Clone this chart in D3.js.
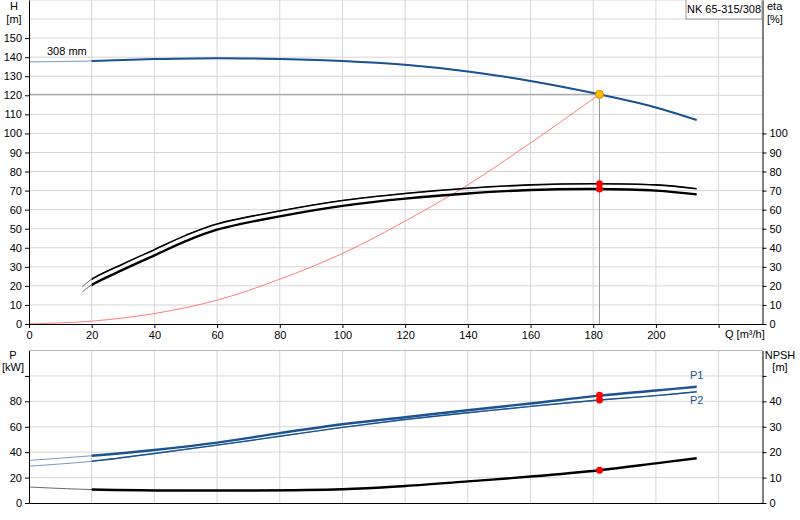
<!DOCTYPE html>
<html><head><meta charset="utf-8">
<script src="https://cdn.jsdelivr.net/npm/d3@7"></script>
<style>
body{margin:0;background:#fff;font-family:Arial,"Liberation Sans",sans-serif;}
text{font-size:11px;fill:#000;}
</style></head>
<body>
<script>
// flow rate samples (m3/h)
var qHead = [0, 20, 40, 60, 80, 100, 120, 140, 160, 182, 198, 213];
var head = [137.5, 138, 139, 139.5, 139, 138, 136, 132.5, 127.5, 120.5, 114.5, 107];
var qSys = [0, 20, 40, 60, 80, 100, 120, 140, 160, 182];
var sysHead = [0, 1.5, 5.5, 12.5, 23.5, 37, 54, 73, 95, 120.5];
var qEta = [17, 20, 30, 40, 50, 60, 80, 100, 120, 140, 160, 180, 200, 213];
var etaUpper = [19.5, 23.5, 31.5, 39, 46.5, 52.5, 59.3, 64.8, 68.5, 71.2, 73, 73.6, 73, 71];
var etaLower = [16.8, 20.5, 28.5, 36, 43.5, 49.5, 56.5, 62, 65.8, 68.5, 70.3, 70.8, 70, 68];
var qPow = [0, 20, 40, 60, 80, 100, 120, 140, 160, 182, 200, 213];
var p1 = [33.5, 37.2, 41.7, 47.5, 55, 62, 67.5, 73, 78.3, 84.5, 88.5, 91.5];
var p2 = [29, 32.8, 39, 45.5, 52.5, 59.5, 65.7, 71, 76, 81, 84.5, 87.5];
var qNpsh = [0, 20, 60, 100, 120, 140, 160, 182, 200, 213];
var npsh = [6.3, 5.3, 4.9, 5.4, 6.7, 8.5, 10.4, 12.9, 15.6, 17.6];
var dutyQ = 182, dutyH = 120.5, dutyEta = [73.6, 70.8], dutyP = [84.8, 81], dutyNpsh = 12.9;
var qTicks = [0, 20, 40, 60, 80, 100, 120, 140, 160, 180, 200];
var hTicks = d3.range(0, 151, 10);
var etaTicks = d3.range(0, 101, 10);
var pTicks = [0, 20, 40, 60, 80];
var npshTicks = [0, 10, 20, 30, 40];

var blue = "#1b5391", grid = "#d6d6d6";
var svg = d3.select("body").append("svg").attr("width", 800).attr("height", 520);

var x = d3.scaleLinear().domain([0, 234]).range([29, 762.5]);
var yH = d3.scaleLinear().domain([0, 170]).range([324, 0]);
var yP = d3.scaleLinear().domain([0, 120]).range([503, 350.5]);
var yN = d3.scaleLinear().domain([0, 60]).range([503, 350.5]);

function zip(a, b){ return a.map(function(v, i){ return [v, b[i]]; }); }

function gridPanel(yS, yT, top, bottom){
    svg.append("g").selectAll("line").data(d3.range(20, 221, 20)).enter().append("line")
        .attr("x1", x).attr("x2", x).attr("y1", top).attr("y2", bottom).attr("stroke", grid);
    svg.append("g").selectAll("line").data(yT).enter().append("line")
        .attr("x1", x(0)).attr("x2", x(234)).attr("y1", yS).attr("y2", yS).attr("stroke", grid);
}
gridPanel(yH, d3.range(10, 171, 10), 0, 324);
gridPanel(yP, [20, 40, 60, 80, 100], 350.5, 503);

var clipN = 0;
function curve(xs, ys, yS, color, w, thinUntil){
    var line = d3.line().x(function(d){ return x(d[0]); }).y(function(d){ return yS(d[1]); }).curve(d3.curveCatmullRom.alpha(0.5));
    var pts = zip(xs, ys);
    var g = svg.append("g");
    if (thinUntil != null){
        g.append("path").attr("d", line(pts)).attr("fill", "none").attr("stroke", color).attr("stroke-width", 1).attr("opacity", 0.6);
        var clip = "clip" + (clipN++);
        svg.append("clipPath").attr("id", clip).append("rect").attr("x", x(thinUntil)).attr("y", 0).attr("width", 800).attr("height", 520);
        g.append("path").attr("d", line(pts)).attr("fill", "none").attr("stroke", color).attr("stroke-width", w).attr("clip-path", "url(#" + clip + ")");
    } else {
        g.append("path").attr("d", line(pts)).attr("fill", "none").attr("stroke", color).attr("stroke-width", w);
    }
}

// duty point guide lines
svg.append("line").attr("x1", x(0)).attr("x2", x(dutyQ)).attr("y1", yH(dutyH)).attr("y2", yH(dutyH)).attr("stroke", "#999");
svg.append("line").attr("x1", x(dutyQ)).attr("x2", x(dutyQ)).attr("y1", yH(dutyH)).attr("y2", yH(0)).attr("stroke", "#999");

curve(qSys, sysHead, yH, "#ff5a5a", 0.8);
curve(qHead, head, yH, blue, 2, 20);
curve(qEta, etaUpper, yH, "#000", 1.6, 20);
curve(qEta, etaLower, yH, "#000", 2.4, 20);
curve(qPow, p1, yP, blue, 2.4, 20);
curve(qPow, p2, yP, blue, 1.4, 20);
curve(qNpsh, npsh, yN, "#000", 2.4, 20);

function dot(cx, cy, fill){
    svg.append("circle").attr("cx", cx).attr("cy", cy).attr("r", 3.5).attr("fill", fill);
}
dot(x(dutyQ), yH(dutyEta[0]), "red");
dot(x(dutyQ), yH(dutyEta[1]), "red");
svg.append("circle").attr("cx", x(dutyQ)).attr("cy", yH(dutyH)).attr("r", 4).attr("fill", "#ffc000").attr("stroke", "#e08000");
dot(x(dutyQ), yP(dutyP[0]), "red");
dot(x(dutyQ), yP(dutyP[1]), "red");
dot(x(dutyQ), yN(dutyNpsh), "red");

// axes
function styleAxis(g){ g.selectAll("path,line").attr("stroke", "#000"); g.selectAll("text").style("font-size", "11px"); }
svg.append("g").attr("transform", "translate(" + x(0) + ",0)")
    .call(d3.axisLeft(yH).tickValues(hTicks).tickSize(4).tickSizeOuter(0)).call(styleAxis);
svg.append("g").attr("transform", "translate(" + x(234) + ",0)")
    .call(d3.axisRight(yH).tickValues(etaTicks).tickSize(4).tickSizeOuter(0)).call(styleAxis);
svg.append("g").attr("transform", "translate(0," + yH(0) + ")")
    .call(d3.axisBottom(x).tickValues(qTicks.concat([220])).tickFormat(function(d){ return d === 220 ? "" : d; }).tickSize(4).tickSizeOuter(0)).call(styleAxis);
svg.append("g").attr("transform", "translate(" + x(0) + ",0)")
    .call(d3.axisLeft(yP).tickValues(pTicks.concat([100])).tickFormat(function(d){ return d === 100 ? "" : d; }).tickSize(4).tickSizeOuter(0)).call(styleAxis);
svg.append("g").attr("transform", "translate(" + x(234) + ",0)")
    .call(d3.axisRight(yN).tickValues(npshTicks.concat([50])).tickFormat(function(d){ return d === 50 ? "" : d; }).tickSize(4).tickSizeOuter(0)).call(styleAxis);
svg.append("g").attr("transform", "translate(0," + yP(0) + ")")
    .call(d3.axisBottom(x).tickValues([]).tickSizeOuter(0)).call(styleAxis);
svg.append("line").attr("x1", x(0)).attr("x2", x(234)).attr("y1", 350.5).attr("y2", 350.5).attr("stroke", "#bbb");

// labels
function label(tx, ty, s, anchor, color){
    svg.append("text").attr("x", tx).attr("y", ty).attr("text-anchor", anchor || "start").style("fill", color || "#000").text(s);
}
label(14, 10, "H", "middle"); label(14, 23, "[m]", "middle");
label(767, 10, "eta"); label(767, 23, "[%]");
label(725, 338, "Q [m³/h]");
label(47, 55, "308 mm");
label(13, 359, "P", "middle"); label(13, 371, "[kW]", "middle");
label(780, 359, "NPSH", "middle"); label(780, 371, "[m]", "middle");
label(x(213), yP(p1[11]) - 8, "P1", "middle", blue);
label(x(213), yP(p2[11]) + 12, "P2", "middle", blue);
svg.append("rect").attr("x", 686).attr("y", -1).attr("width", 76).attr("height", 20).attr("fill", "#fff").attr("stroke", "#999");
label(724, 13, "NK 65-315/308", "middle");
</script>
</body></html>
